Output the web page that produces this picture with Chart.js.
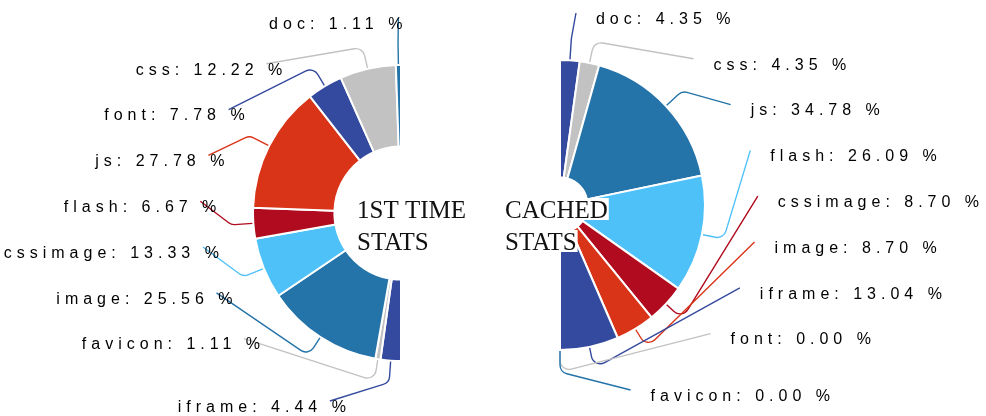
<!DOCTYPE html>
<html><head><meta charset="utf-8">
<script src="https://cdn.jsdelivr.net/npm/chart.js@4"></script>
<style>
html,body{margin:0;padding:0;background:#fff;width:986px;height:416px;overflow:hidden}
#cL{position:absolute;left:0;top:0}
#cR{position:absolute;left:490px;top:0}
</style></head><body>
<canvas id="cL" width="490" height="416"></canvas>
<canvas id="cR" width="496" height="416"></canvas>
<script>
// ---- data ----
const firstCategories = ['doc','css','font','js','flash','cssimage','image','favicon','iframe'];
const firstValues     = [1.11, 12.22, 7.78, 27.78, 6.67, 13.33, 25.56, 1.11, 4.44];
const cachedCategories = ['doc','css','js','flash','cssimage','image','iframe','font','favicon'];
const cachedValues     = [4.35, 4.35, 34.78, 26.09, 8.70, 8.70, 13.04, 0.00, 0.00];
const firstTitle  = ['1ST TIME', 'STATS'];
const cachedTitle = ['CACHED', 'STATS'];

// ---- styles ----
const C = { blue:'#2473a9', gray:'#c2c2c2', navy:'#344a9e', red:'#d93418', crimson:'#b00b1e', sky:'#4fc1f9' };
const firstColors  = [C.blue, C.gray, C.navy, C.red, C.crimson, C.sky, C.blue, C.gray, C.navy];
const cachedColors = [C.navy, C.gray, C.blue, C.sky, C.crimson, C.red, C.navy, C.gray, C.blue];

const LABEL_FONT = '16px "Liberation Sans", Arial, sans-serif';
const TITLE_FONT = '25px "Liberation Serif", "Times New Roman", serif';
const LS = 5;

const pieLabels = {
  id: 'pieLabels',
  afterDatasetsDraw(chart, args, o) {
    const ctx = chart.ctx;
    const meta = chart.getDatasetMeta(0);
    const n = o.labels.length;
    const side = o.side;
    ctx.save();
    let cx0 = 0, cy0 = 0;
    meta.data.forEach((arc, j) => {
      const i = o.reversed ? n - 1 - j : j;
      const p = arc.getProps(['x','y','startAngle','endAngle','outerRadius'], true);
      const cx = p.x, cy = p.y, R = p.outerRadius;
      cx0 = cx; cy0 = cy;
      const mid = (p.startAngle + p.endAngle) / 2;
      const sx = cx + Math.cos(mid) * (R + 1), sy = cy + Math.sin(mid) * (R + 1);
      const ex = cx + Math.cos(mid) * (R + 22), ey = cy + Math.sin(mid) * (R + 22);
      const labelY = i < n - 1 ? cy - R - 42 + i * 45.8 : cy + R + 45;
      const ay = labelY - 5;
      const Ra = R + 53;
      let ax;
      if (i === 0) ax = sx + (side > 0 ? 6 : 0);
      else ax = cx + side * Math.sqrt(Math.max(0, Ra * Ra - (ay - cy) * (ay - cy)));
      // connector
      ctx.beginPath();
      ctx.moveTo(ax, ay);
      ctx.arcTo(ex, ey, sx, sy, 9);
      ctx.lineTo(sx, sy);
      ctx.strokeStyle = o.colors[i];
      ctx.lineWidth = 1.4;
      ctx.stroke();
      // text
      const text = o.labels[i] + ': ' + o.values[i].toFixed(2) + ' %';
      ctx.font = LABEL_FONT;
      ctx.letterSpacing = '0px';
      const w = ctx.measureText(text).width + (text.length - 1) * LS;
      ctx.letterSpacing = LS + 'px';
      ctx.fillStyle = '#000';
      ctx.textAlign = 'left';
      ctx.textBaseline = 'alphabetic';
      const gap = (i === 0) ? 4 : 16;
      const tx = side < 0 ? ax + gap - w : ax + 20;
      ctx.fillText(text, tx, labelY + 5.8);
    });
    // centre title
    ctx.letterSpacing = '0px';
    ctx.font = TITLE_FONT;
    ctx.textAlign = 'left';
    ctx.textBaseline = 'alphabetic';
    o.title.forEach((line, k) => {
      const bx = cx0 + o.titleDx;
      const by = chart.height / 2 + 10 + k * 32;
      const w = ctx.measureText(line).width;
      ctx.fillStyle = '#fff';
      ctx.fillRect(bx - 1, by - 20, w + 2, 22);
      ctx.fillStyle = '#111';
      ctx.fillText(line, bx, by);
    });
    ctx.restore();
  }
};

function makeChart(id, cats, vals, colors, cfg) {
  const order = cfg.reversed ? vals.map((_, k) => vals.length - 1 - k) : vals.map((_, k) => k);
  return new Chart(document.getElementById(id), {
    type: 'doughnut',
    data: {
      labels: order.map(k => cats[k]),
      datasets: [{
        data: order.map(k => vals[k]),
        backgroundColor: order.map(k => colors[k]),
        borderColor: '#fff',
        borderWidth: 2
      }]
    },
    options: {
      responsive: false,
      animation: false,
      devicePixelRatio: 1,
      events: [],
      rotation: cfg.rotation,
      circumference: 180,
      radius: cfg.radius,
      cutout: cfg.cutout,
      layout: { padding: cfg.padding },
      plugins: {
        legend: { display: false },
        tooltip: { enabled: false },
        pieLabels: {
          labels: cats, values: vals, colors: colors, side: cfg.side,
          reversed: cfg.reversed, title: cfg.title, titleDx: cfg.titleDx
        }
      }
    },
    plugins: [pieLabels]
  });
}

makeChart('cL', firstCategories, firstValues, firstColors, {
  reversed: true, rotation: 180, radius: 148, cutout: '45%', side: -1,
  padding: { left: 164, right: 0, top: 10, bottom: 0 },
  title: firstTitle, titleDx: -44
});
makeChart('cR', cachedCategories, cachedValues, cachedColors, {
  reversed: false, rotation: 0, radius: 145, cutout: '19%', side: 1,
  padding: { left: 0, right: 211, top: 2, bottom: 8 },
  title: cachedTitle, titleDx: -55
});
</script>
</body></html>
